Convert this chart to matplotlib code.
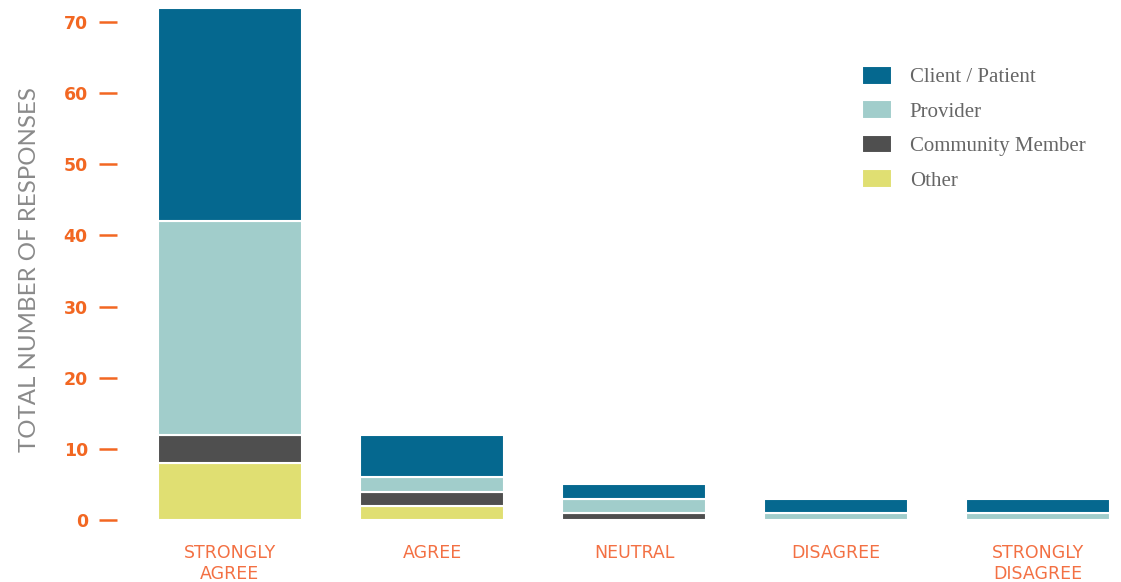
import numpy as np
import matplotlib
matplotlib.use("Agg")
import matplotlib.pyplot as plt

# survey responses, stacked by respondent type
categories = ["STRONGLY\nAGREE", "AGREE", "NEUTRAL", "DISAGREE", "STRONGLY\nDISAGREE"]
other = [8, 2, 0, 0, 0]
community = [4, 2, 1, 0, 0]
provider = [30, 2, 2, 1, 1]
client = [30, 6, 2, 2, 2]
yticks = [0, 10, 20, 30, 40, 50, 60, 70]

series = [
    ("Other", other, "#e0df72"),
    ("Community Member", community, "#4f4f4f"),
    ("Provider", provider, "#a1cdcb"),
    ("Client / Patient", client, "#05688f"),
]

fig = plt.figure(figsize=(11.21, 5.82), dpi=100)
ax = fig.add_axes([0.1044, 0.1065, 0.8956, 0.8923])

x = np.arange(len(categories))
bottom = np.zeros(len(categories))
handles = []
for name, vals, col in series:
    b = ax.bar(x, vals, width=0.713, bottom=bottom, color=col,
               edgecolor="white", linewidth=1.5, label=name)
    handles.append(b)
    bottom += np.array(vals)

ax.set_xlim(-0.559, 4.41)
ax.set_ylim(0, 73)
for s in ax.spines.values():
    s.set_visible(False)

ax.set_yticks(yticks)
ax.set_yticklabels([str(t) for t in yticks], fontsize=12.5, fontweight="bold",
                   color="#f26722")
ax.tick_params(axis="y", direction="out", length=13, width=1.8,
               color="#f26722", pad=8)

ax.set_xticks(x)
ax.set_xticklabels(categories, fontsize=12.5, color="#f37043",
                   linespacing=1.25)
ax.tick_params(axis="x", length=0, pad=17)

fig.text(0.026, 0.536, "TOTAL NUMBER OF RESPONSES", rotation=90,
         ha="center", va="center", fontsize=17.3, color="#8a8a8a",
         family=["Lato", "DejaVu Sans"], fontweight="normal")

fig.legend(handles[::-1], [h.get_label() for h in handles[::-1]],
           loc="upper left", bbox_to_anchor=(862 / 1121, 1 - 66 / 582),
           frameon=False, borderpad=0, borderaxespad=0,
           prop={"family": "Liberation Serif", "size": 15},
           labelcolor="#666666", handlelength=1.44, handleheight=1.0,
           handletextpad=0.85, labelspacing=0.62)

fig.savefig("out.png", dpi=100)
